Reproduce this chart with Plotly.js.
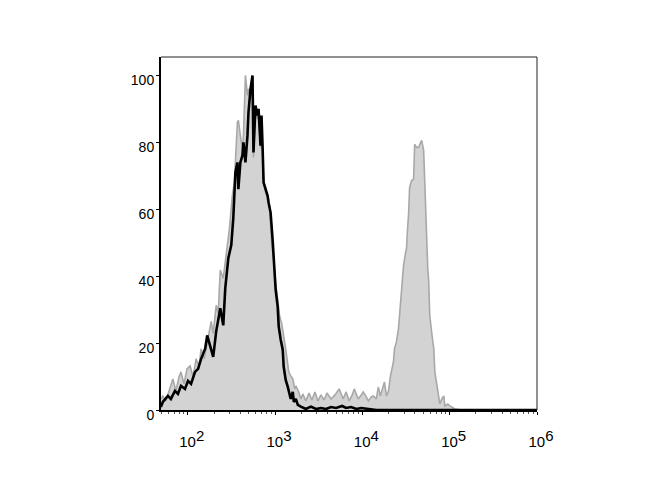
<!DOCTYPE html>
<html>
<head>
<meta charset="utf-8">
<script src="https://cdn.plot.ly/plotly-3.0.1.min.js"></script>
<style>
  html, body { margin: 0; padding: 0; background: #fff; }
  #plot { width: 670px; height: 500px; }
</style>
</head>
<body>
<div id="plot"></div>
<script>
// channel values are given as log10 of fluorescence
const stainedLog = [
  1.692, 1.715, 1.750, 1.784, 1.830, 1.865, 1.900, 1.923, 1.957, 1.992,
  2.027, 2.061, 2.096, 2.130, 2.153, 2.188, 2.234, 2.269, 2.292, 2.326,
  2.349, 2.373, 2.407, 2.442, 2.476, 2.511, 2.534, 2.569, 2.580, 2.603,
  2.626, 2.638, 2.661, 2.684, 2.696, 2.719, 2.742, 2.753, 2.776, 2.799,
  2.811, 2.834, 2.845, 2.869, 2.892, 2.915, 2.938, 2.961, 2.984, 3.007,
  3.030, 3.053, 3.076, 3.088, 3.111, 3.122, 3.145, 3.157, 3.180, 3.203,
  3.226, 3.238, 3.272, 3.295, 3.318, 3.353, 3.388, 3.422, 3.457, 3.491,
  3.526, 3.561, 3.595, 3.641, 3.687, 3.734, 3.780, 3.814, 3.849, 3.884,
  3.907, 3.953, 3.987, 4.010, 4.045, 4.068, 4.103, 4.126, 4.160, 4.183,
  4.206, 4.230, 4.253, 4.276, 4.299, 4.322, 4.345, 4.356, 4.368, 4.391,
  4.414, 4.426, 4.449, 4.472, 4.495, 4.506, 4.518, 4.529, 4.541, 4.564,
  4.587, 4.599, 4.622, 4.645, 4.668, 4.679, 4.702, 4.714, 4.726, 4.737,
  4.749, 4.760, 4.772, 4.795, 4.818, 4.830, 4.852, 4.864, 4.887, 4.910,
  4.933, 4.945, 4.979, 5.002, 5.060, 5.141, 6.000
];
const stainedCount = [
  3.3, 4.2, 2.7, 5.7, 9.3, 5.7, 9.9, 11.4, 7.8, 12.3,
  13.2, 9.9, 15.3, 12.9, 18.3, 15.3, 22.3, 26.5, 22.9, 31.3,
  28.9, 41.8, 39.4, 46.3, 53.8, 64.1, 68.0, 86.0, 86.6, 82.0,
  78.0, 82.0, 100.0, 94.0, 96.0, 93.5, 95.0, 75.5, 90.0, 87.0,
  88.0, 78.5, 86.0, 68.0, 65.0, 63.5, 60.5, 50.0, 45.0, 38.0,
  33.4, 28.0, 25.9, 23.5, 19.8, 18.3, 13.8, 11.4, 10.2, 9.3,
  6.3, 7.2, 5.4, 3.3, 4.8, 2.7, 5.1, 3.0, 5.4, 2.7,
  4.5, 3.0, 5.1, 3.3, 4.5, 6.3, 3.3, 5.4, 2.7, 4.5,
  6.3, 3.3, 4.5, 5.4, 3.9, 2.7, 3.9, 4.2, 3.3, 6.9,
  4.2, 6.3, 8.4, 4.2, 5.7, 10.2, 13.2, 14.4, 18.3, 20.5,
  24.4, 28.3, 37.9, 43.3, 47.0, 48.4, 54.4, 58.3, 66.5, 68.6,
  69.0, 79.4, 78.5, 78.5, 80.0, 80.6, 77.6, 68.6, 58.3, 48.4,
  42.4, 38.5, 28.3, 22.9, 18.3, 11.4, 7.8, 5.4, 1.8, 3.3,
  4.2, 1.2, 1.8, 1.2, 0.3, 0.0, 0.0
];

const controlLog = [
  1.692, 1.715, 1.773, 1.807, 1.854, 1.888, 1.923, 1.969, 2.003, 2.038,
  2.084, 2.119, 2.153, 2.200, 2.223, 2.257, 2.292, 2.326, 2.373, 2.407,
  2.430, 2.465, 2.499, 2.522, 2.546, 2.569, 2.580, 2.603, 2.626, 2.638,
  2.661, 2.684, 2.696, 2.719, 2.742, 2.753, 2.776, 2.799, 2.811, 2.834,
  2.845, 2.857, 2.869, 2.892, 2.915, 2.926, 2.949, 2.972, 2.984, 3.007,
  3.030, 3.042, 3.065, 3.088, 3.099, 3.122, 3.145, 3.157, 3.180, 3.203,
  3.215, 3.238, 3.261, 3.295, 3.353, 3.411, 3.469, 3.526, 3.584, 3.641,
  3.699, 3.768, 3.814, 3.872, 3.930, 3.987, 4.056, 4.160, 6.000
];
const controlCount = [
  0.9, 2.4, 4.2, 3.3, 5.7, 4.8, 7.2, 6.3, 8.7, 7.8,
  11.4, 12.3, 15.3, 18.3, 22.3, 19.2, 15.9, 23.5, 30.4, 25.3,
  36.4, 45.4, 49.3, 57.4, 71.0, 74.0, 66.0, 74.0, 76.0, 80.0,
  74.0, 82.0, 89.0, 96.0, 100.0, 77.0, 91.0, 88.0, 90.0, 79.0,
  88.0, 79.0, 68.0, 66.0, 64.0, 62.0, 59.0, 51.0, 45.0, 36.0,
  31.0, 25.0, 21.0, 18.0, 13.0, 9.0, 7.0, 5.4, 3.3, 5.4,
  2.4, 3.3, 1.5, 1.0, 0.3, 1.0, 0.3, 0.6, 0.3, 0.9,
  0.6, 1.2, 0.6, 0.9, 0.3, 0.6, 0.3, 0.0, 0.0
];

const yTicks = [0, 20, 40, 60, 80, 100];
const xTickVals = [2, 3, 4, 5, 6];
const xTickText = xTickVals.map(p => '10<sup><span style="font-size:15px">' + p + '</span></sup>');

// minor log ticks (2..9 x 10^n) in log10 units
const minorVals = [];
for (let p = 1; p <= 5; p++) {
  for (let k = 2; k <= 9; k++) {
    const v = p + Math.log10(k);
    if (v > 1.694 && v < 6) minorVals.push(v);
  }
}

const stained = {
  x: stainedLog, y: stainedCount,
  type: 'scatter', mode: 'lines',
  fill: 'tozeroy',
  fillcolor: 'rgb(211,211,211)',
  line: { color: 'rgb(168,168,168)', width: 1.6 },
  hoverinfo: 'skip'
};

const control = {
  x: controlLog, y: controlCount,
  type: 'scatter', mode: 'lines',
  line: { color: '#000', width: 2.6 },
  hoverinfo: 'skip'
};

const layout = {
  width: 670, height: 500,
  margin: { l: 161, r: 133, t: 57, b: 90, pad: 0 },
  paper_bgcolor: '#fff', plot_bgcolor: '#fff',
  showlegend: false,
  font: { family: 'Arial, "Liberation Sans", sans-serif', size: 14, color: '#000' },
  xaxis: {
    type: 'linear', range: [1.694, 6.0],
    tickmode: 'array', tickvals: xTickVals, ticktext: xTickText,
    ticks: 'outside', ticklen: 3, tickwidth: 1, tickcolor: '#000',
    tickfont: { size: 15 },
    ticklabelstandoff: 14,
    ticklabelshift: 4,
    minor: { tickmode: 'array', tickvals: minorVals, ticks: 'outside', ticklen: 2, tickwidth: 1, tickcolor: '#555', showgrid: false },
    showgrid: false, zeroline: false,
    showline: true, linecolor: '#000', linewidth: 2
  },
  yaxis: {
    range: [0, 105.5],
    tickmode: 'array', tickvals: yTicks,
    ticks: 'outside', ticklen: 3, tickwidth: 1, tickcolor: '#000',
    tickfont: { size: 14 },
    ticklabelshift: 5,
    ticklabelstandoff: -1,
    showgrid: false, zeroline: false,
    showline: true, linecolor: '#000', linewidth: 2
  },
  shapes: [
    { type: 'line', xref: 'paper', yref: 'paper', x0: 0, x1: 1, y0: 1, y1: 1,
      line: { color: '#222', width: 1 } },
    { type: 'line', xref: 'paper', yref: 'paper', x0: 1, x1: 1, y0: 0, y1: 1,
      line: { color: '#222', width: 1 } }
  ]
};

Plotly.newPlot('plot', [stained, control], layout, { staticPlot: true, displayModeBar: false });
</script>
</body>
</html>
